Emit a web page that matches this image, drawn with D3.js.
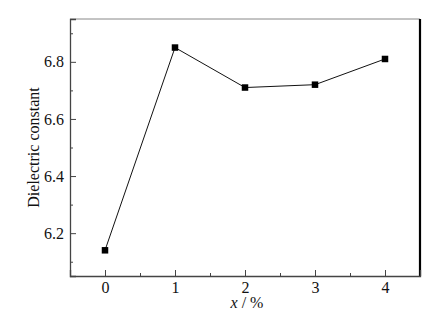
<!DOCTYPE html>
<html>
<head>
<meta charset="utf-8">
<script src="https://cdn.jsdelivr.net/npm/d3@7"></script>
<style>
  body { margin: 0; background: #fff; }
  svg text { font-family: "Liberation Serif", "Times New Roman", serif !important; }
</style>
</head>
<body>
<svg id="chart"></svg>
<script>
// data
const xValues = [0, 1, 2, 3, 4];
const dielectric = [6.14, 6.85, 6.71, 6.72, 6.81];
const xTicks = [0, 1, 2, 3, 4];
const yTicks = [6.2, 6.4, 6.6, 6.8];

const width = 442, height = 327;
const margin = { top: 19, right: 22, bottom: 51, left: 70 };

const svg = d3.select('#chart').attr('width', width).attr('height', height);

const x = d3.scaleLinear().domain([-0.5, 4.5]).range([margin.left, width - margin.right]);
const y = d3.scaleLinear().domain([6.05, 6.95]).range([height - margin.bottom, margin.top]);

const x0 = margin.left, x1 = width - margin.right;
const y0 = height - margin.bottom, y1 = margin.top;

// frame
svg.append('line').attr('x1', x0).attr('x2', x1).attr('y1', y1).attr('y2', y1)
  .attr('stroke', '#888').attr('stroke-width', 1);
svg.append('line').attr('x1', x1).attr('x2', x1).attr('y1', y1).attr('y2', y0)
  .attr('stroke', '#000').attr('stroke-width', 2.2);

// x axis (ticks inward)
const xAxis = svg.append('g').attr('transform', `translate(0,${y0})`)
  .call(d3.axisBottom(x).tickValues(xTicks).tickSize(-6).tickPadding(6).tickFormat(d3.format('d')));
xAxis.append('g').call(d3.axisBottom(x).tickValues([0.5, 1.5, 2.5, 3.5]).tickSize(-3).tickFormat(''))
  .select('.domain').remove();

// y axis
const yAxis = svg.append('g').attr('transform', `translate(${x0},0)`)
  .call(d3.axisLeft(y).tickValues(yTicks).tickSize(-6).tickPadding(6).tickFormat(d3.format('.1f')));
yAxis.append('g').call(d3.axisLeft(y).tickValues([6.1, 6.3, 6.5, 6.7, 6.9]).tickSize(-3).tickFormat(''))
  .select('.domain').remove();

svg.selectAll('.domain').attr('stroke', '#444').attr('stroke-width', 1.3);
svg.selectAll('.tick line').attr('stroke', '#444');
svg.selectAll('.tick text').attr('font-size', 16).attr('fill', '#111');

// axis titles
svg.append('text')
  .attr('transform', `translate(39,${(y0 + y1) / 2}) rotate(-90)`)
  .attr('text-anchor', 'middle').attr('font-size', 16).attr('fill', '#111')
  .text('Dielectric constant');

const xt = svg.append('text')
  .attr('x', x(2) + 2).attr('y', 308)
  .attr('text-anchor', 'middle').attr('font-size', 16).attr('fill', '#111');
xt.append('tspan').attr('font-style', 'italic').text('x');
xt.append('tspan').text(' / %');

// series
const pts = xValues.map((v, i) => [v, dielectric[i]]);
svg.append('path').datum(pts)
  .attr('fill', 'none').attr('stroke', '#111').attr('stroke-width', 1)
  .attr('d', d3.line().x(d => x(d[0])).y(d => y(d[1])));

const s = 6.5;
svg.selectAll('rect.pt').data(pts).enter().append('rect')
  .attr('class', 'pt')
  .attr('x', d => x(d[0]) - s / 2).attr('y', d => y(d[1]) - s / 2)
  .attr('width', s).attr('height', s).attr('fill', '#000');
</script>
</body>
</html>
